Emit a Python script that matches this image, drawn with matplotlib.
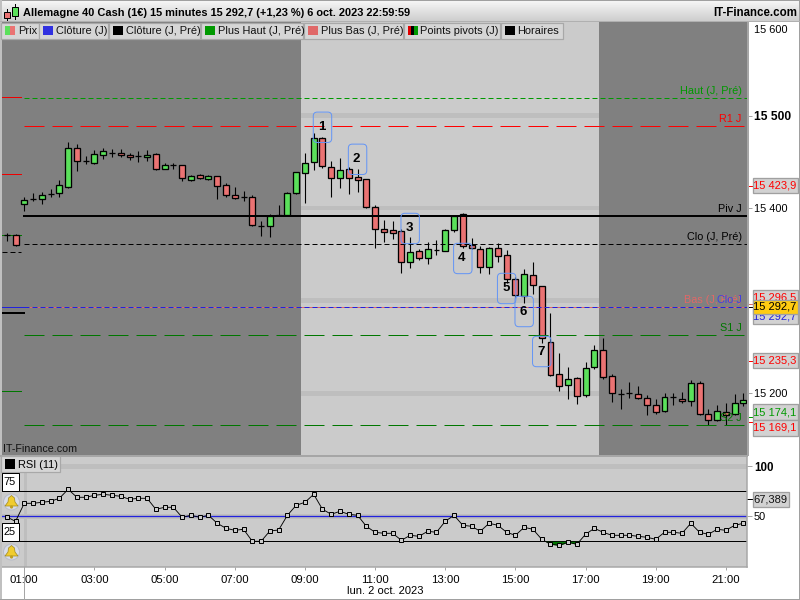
import numpy as np
import matplotlib
matplotlib.use("Agg")
import matplotlib.pyplot as plt
from matplotlib.patches import Rectangle, FancyBboxPatch, Circle, Polygon

plt.rcParams['font.family'] = ['Liberation Sans', 'DejaVu Sans']
plt.rcParams['lines.scale_dashes'] = False

### Data
opens = [15370.5, 15370.5,
    15404.0, 15409.4, 15410.1, 15415.5, 15415.9, 15423.1, 15464.5, 15450.5, 15449.0, 15456.9,
    15459.8, 15459.8, 15456.9, 15455.9, 15454.8, 15458.0, 15442.5, 15446.1, 15446.1, 15430.7,
    15435.3, 15431.0, 15434.3, 15424.5, 15413.7, 15411.6, 15411.6, 15381.0, 15381.0, 15392.9,
    15392.9, 15415.9, 15438.2, 15449.4, 15475.3, 15444.0, 15432.8, 15441.8, 15433.2, 15431.0,
    15400.8, 15377.0, 15375.9, 15374.9, 15342.1, 15353.3, 15346.4, 15355.1, 15354.0, 15376.7,
    15393.2, 15359.7, 15355.4, 15336.7, 15356.5, 15348.9, 15323.0, 15305.4, 15327.3, 15315.5,
    15255.0, 15220.4, 15208.5, 15216.1, 15197.7, 15228.0, 15246.3, 15218.3, 15199.5, 15200.6,
    15198.8, 15194.5, 15186.9, 15180.5, 15195.6, 15193.4, 15191.3, 15210.7, 15177.2, 15170.7,
    15179.4, 15177.2, 15189.1]
closes = [15370.5, 15360.5,
    15408.3, 15409.4, 15413.7, 15415.5, 15424.5, 15464.5, 15450.5, 15450.5, 15458.0, 15461.3,
    15459.8, 15457.7, 15454.8, 15455.9, 15456.9, 15441.8, 15446.1, 15446.1, 15432.1, 15434.3,
    15432.1, 15434.3, 15423.5, 15413.7, 15410.5, 15411.6, 15381.3, 15381.0, 15391.1, 15392.9,
    15415.9, 15438.6, 15448.3, 15475.3, 15445.8, 15432.8, 15440.7, 15432.8, 15430.7, 15401.5,
    15377.7, 15374.5, 15373.4, 15342.1, 15352.2, 15346.4, 15356.1, 15355.1, 15375.9, 15391.1,
    15359.4, 15356.5, 15336.7, 15356.5, 15348.6, 15323.7, 15306.5, 15328.4, 15316.5, 15259.7,
    15220.1, 15207.5, 15215.0, 15196.7, 15226.9, 15246.3, 15217.2, 15199.9, 15199.5, 15200.6,
    15194.5, 15186.9, 15179.4, 15195.6, 15195.6, 15191.3, 15210.7, 15177.2, 15170.7, 15180.5,
    15176.1, 15189.1, 15192.3]
highs = [15373.4, 15372.0,
    15411.6, 15415.9, 15417.0, 15420.9, 15429.9, 15471.0, 15468.8, 15456.2, 15462.7, 15464.9,
    15463.8, 15463.8, 15459.8, 15461.3, 15462.3, 15459.1, 15448.3, 15448.3, 15446.9, 15435.3,
    15436.8, 15435.7, 15435.0, 15427.1, 15423.1, 15418.1, 15413.7, 15386.0, 15393.6, 15403.3,
    15417.3, 15439.3, 15459.5, 15480.7, 15477.1, 15450.8, 15453.7, 15444.7, 15441.8, 15431.4,
    15403.3, 15387.1, 15386.0, 15377.0, 15368.4, 15355.4, 15363.0, 15365.1, 15377.0, 15392.5,
    15394.7, 15367.3, 15358.7, 15357.6, 15361.9, 15354.7, 15325.9, 15334.2, 15341.4, 15316.2,
    15286.3, 15243.1, 15228.0, 15217.2, 15234.1, 15251.7, 15259.7, 15220.4, 15204.2, 15211.8,
    15207.5, 15197.7, 15193.4, 15199.9, 15199.9, 15201.0, 15214.3, 15212.9, 15182.6, 15186.9,
    15189.1, 15198.8, 15199.9]
lows = [15364.8, 15359.0,
    15397.2, 15407.6, 15404.7, 15412.3, 15412.3, 15422.0, 15440.0, 15447.9, 15447.9, 15453.3,
    15454.8, 15455.5, 15451.9, 15450.1, 15451.2, 15441.1, 15441.8, 15442.5, 15429.6, 15429.6,
    15431.0, 15429.9, 15409.8, 15412.3, 15409.8, 15407.3, 15380.6, 15370.2, 15369.1, 15391.4,
    15392.5, 15415.5, 15405.8, 15441.1, 15443.6, 15412.3, 15421.7, 15415.2, 15417.7, 15400.4,
    15357.2, 15363.3, 15366.6, 15330.2, 15335.6, 15344.3, 15339.9, 15349.7, 15353.6, 15374.5,
    15357.2, 15355.4, 15329.9, 15328.8, 15341.7, 15318.7, 15302.5, 15297.5, 15307.2, 15254.6,
    15219.0, 15202.8, 15193.4, 15188.0, 15196.3, 15225.8, 15215.7, 15190.9, 15182.6, 15194.5,
    15193.4, 15176.9, 15177.2, 15179.4, 15186.9, 15189.1, 15185.9, 15176.1, 15165.7, 15169.7,
    15165.3, 15176.1, 15185.9]
rsi_values = [49.3, 45,
    63, 63, 64, 65, 68, 77, 69, 69, 71, 72,
    71, 70, 67, 68, 68, 57, 59, 59, 49, 51,
    49, 51, 43, 38, 36, 37, 25, 25, 35.3, 36.3,
    51, 61, 64, 72, 57, 52, 55, 52, 51, 40,
    34, 33, 33, 26, 31, 30, 35, 34, 45, 51,
    41, 40, 35, 43, 41, 34, 31, 39, 37, 27,
    22, 21, 24, 22, 32, 38, 34, 31, 31, 31,
    30, 29, 27, 34, 34, 33, 43, 34, 32, 37,
    36, 41, 43]

time_labels = ['01:00', '03:00', '05:00', '07:00', '09:00', '11:00', '13:00', '15:00', '17:00', '19:00', '21:00']
bubble_labels = ['1', '2', '3', '4', '5', '6', '7']
bubble_idx = [34, 38, 44, 50, 55, 57, 59]
bubble_price = [15487.3, 15452.7, 15378.0, 15345.6, 15313.2, 15288.3, 15245.1]

haut_pre = 15518.5
r1 = 15488.3
piv = 15391.4
clo_pre = 15360.8
last_close = 15292.7
s1 = 15262.5
s2 = 15165.3
prev_levels = [15519.6, 15436.8, 15202.0]
prev_clo = 15352.2
prev_piv = 15287.0

### Colours
DARK = '#808080'
LIGHT = '#cbcbcb'
BAND = '#bebebe'
GREEN = '#5be05b'
RED = '#ea7373'
FRAME = '#a6a6a6'
px = 0.72  # one pixel in points at dpi 100
FS = 7.9


def box_axes(left, top, right, bottom):
    return fig.add_axes([left / 800, 1 - bottom / 600, (right - left) / 800, (bottom - top) / 600])


fig = plt.figure(figsize=(8, 6), dpi=100, facecolor='white')

#%% price pane
idx = np.arange(len(closes)) - 2
xlim = ((2 - 24.3) / 8.77, (747 - 24.3) / 8.77)
ax = box_axes(2, 22, 747, 455.5)
ax.set_xlim(xlim)
ax.set_ylim(15132.8, 15601)
ax.set_facecolor(DARK)
for s in ax.spines.values():
    s.set_visible(False)

ax.axvspan(31.55, 65.53, color=LIGHT, lw=0, zorder=0)
for level in [15500, 15400, 15300, 15200]:
    ax.fill_between([31.55, 65.53], level - 2.5, level + 2.5, color=BAND, lw=0, zorder=0.5)

o = np.array(opens)
c = np.array(closes)
colors = [GREEN if b > a else RED for a, b in zip(o, c)]
ax.vlines(idx, lows, highs, color='black', lw=1.1 * px, zorder=2)
ax.bar(idx, np.abs(c - o), bottom=np.minimum(o, c), width=0.68, color=colors,
       edgecolor='black', linewidth=1.3 * px, zorder=3)

line_x = [0, xlim[1]]
long_dash = (0, (20 * px, 8 * px))
short_dash = (0, (5 * px, 3 * px))
ax.plot(line_x, [haut_pre] * 2, color='#009900', lw=1 * px, ls=short_dash, zorder=4)
ax.plot(line_x, [r1] * 2, color='#ff0000', lw=1 * px, ls=long_dash, zorder=4)
ax.plot(line_x, [piv] * 2, color='black', lw=2 * px, zorder=4)
ax.plot(line_x, [clo_pre] * 2, color='black', lw=1 * px, ls=short_dash, zorder=4)
ax.plot(line_x, [last_close] * 2, color='#e06868', lw=1 * px, zorder=4)
ax.plot(line_x, [last_close] * 2, color='#2222dd', lw=1 * px, ls=short_dash, zorder=4)
ax.plot(line_x, [s1] * 2, color='#007700', lw=1 * px, ls=long_dash, zorder=4)
ax.plot(line_x, [s2] * 2, color='#007700', lw=1 * px, ls=long_dash, zorder=4)

# stubs of the previous session on the far left
stub_x = [xlim[0], -0.35]
for level, col in zip(prev_levels, ['#ee0000', '#ee0000', '#007700']):
    ax.plot(stub_x, [level] * 2, color=col, lw=1 * px, zorder=1)
ax.plot(stub_x, [closes[0]] * 2, color='#007700', lw=1 * px, zorder=1)
ax.plot(stub_x, [prev_clo] * 2, color='black', lw=1 * px, ls=short_dash, zorder=1)
ax.plot([xlim[0], 0], [prev_piv] * 2, color='black', lw=2 * px, zorder=1)
ax.plot([xlim[0], 0], [last_close] * 2, color='#2222dd', lw=1 * px, zorder=4)

for lab, bx, by in zip(bubble_labels, bubble_idx, bubble_price):
    ax.add_patch(FancyBboxPatch((bx - 1.05, by - 16.4), 2.1, 32.8,
                                boxstyle='round,pad=0,rounding_size=0.45', mutation_aspect=9.47,
                                fc='none', ec='#6495f5', lw=1 * px, zorder=6))
    ax.text(bx - 0.1, by, lab, fontsize=9.5, fontweight='bold', ha='center', va='center', zorder=7)

ax.set_xticks([])
ax.yaxis.tick_right()
ax.set_yticks([15500, 15400, 15200])
ax.set_yticklabels(['15 500', '15 400', '15 200'], fontsize=FS)
ax.get_yticklabels()[0].set_fontweight('bold')
ax.get_yticklabels()[0].set_fontsize(8.7)
ax.tick_params(axis='y', length=3.6, width=1 * px, color=FRAME, pad=1.5)

ytr = ax.get_yaxis_transform()
for price, col in [(15423.9, '#ff0000'), (15235.3, '#ff0000'), (15174.1, '#009900'), (15169.1, '#ff0000'),
                   (15296.5, '#e06868'), (15292.7, 'black')]:
    ax.plot([1.0, 1.007], [price] * 2, color=col, lw=1 * px, transform=ytr, clip_on=False, zorder=8)

#%% RSI pane
ax2 = box_axes(2, 456, 747, 567.3)
ax2.set_xlim(xlim)
ax2.set_ylim(-1, 110.3)
ax2.set_facecolor(LIGHT)
ax2.axhspan(97.7, 102.3, color=BAND, lw=0, zorder=0)
ax2.axhspan(47.7, 52.3, color=BAND, lw=0, zorder=0)
ax2.axvspan(0, 0.3, color=BAND, lw=0, zorder=0)
ax2.axhline(75, color='black', lw=1 * px, zorder=1)
ax2.axhline(25, color='black', lw=1 * px, zorder=1)
ax2.axhline(50, color='#2222dd', lw=1.3 * px, zorder=1)
rsi = np.array(rsi_values)
ax2.fill_between(idx, rsi, 25, where=rsi < 25, interpolate=True, color='#007700', lw=0, zorder=1.5)
ax2.plot(idx, rsi, color='black', lw=0.9 * px, marker='s', ms=3.4, mfc=LIGHT, mec='black', mew=1 * px, zorder=3)
ax2.set_xticks(np.arange(len(time_labels)) * 8)
ax2.set_xticklabels(time_labels, fontsize=8.2)
ax2.tick_params(axis='x', length=2.5, width=1 * px, color=FRAME, pad=3)
ax2.yaxis.tick_right()
ax2.set_yticks([100, 50])
ax2.set_yticklabels(['100', '50'], fontsize=FS)
ax2.get_yticklabels()[0].set_fontweight('bold')
ax2.get_yticklabels()[0].set_fontsize(8.3)
ax2.tick_params(axis='y', length=3.6, width=1 * px, color=FRAME, pad=1.5)
ax2.plot([1.0, 1.007], [67.389] * 2, color='black', lw=1 * px, transform=ax2.get_yaxis_transform(), clip_on=False)
for s in ax2.spines.values():
    s.set_color(FRAME)
    s.set_linewidth(1.5 * px)
ax2.spines['left'].set_visible(False)

#%% window chrome, in pixels
ov = fig.add_axes([0, 0, 1, 1], zorder=10)
ov.patch.set_alpha(0)
ov.axis('off')
ov.imshow(np.linspace(0.96, 0.8, 32).reshape(-1, 1), extent=[0, 800, 22, 1], cmap='gray', vmin=0, vmax=1, aspect='auto')
ov.set_xlim(0, 800)
ov.set_ylim(600, 0)


def rect(x0, y0, x1, y1, fc, ec='none', lw=1, z=1):
    ov.add_patch(Rectangle((x0, y0), x1 - x0, y1 - y0, fc=fc, ec=ec, lw=lw * px, zorder=z))


rect(0, 0, 800, 1, '#a0a0a0')
rect(0, 0, 1.5, 600, '#c0c0c0')
rect(799, 0, 800, 600, '#a0a0a0')
rect(0, 599, 800, 600, '#a0a0a0')
rect(0, 21, 800, 22, '#b0b0b0')
rect(747, 22, 748.5, 456, FRAME)
rect(0, 455, 748, 456.5, FRAME)

# title
rect(3.5, 11.5, 9.5, 18, RED, 'black')
ov.plot([6.5, 6.5], [9, 20], color='black', lw=1 * px, zorder=0.9)
rect(11.5, 7, 17.5, 16, GREEN, 'black')
ov.plot([14.5, 14.5], [4, 19], color='black', lw=1 * px, zorder=0.9)
ov.text(23, 13, 'Allemagne 40 Cash (1€) 15 minutes 15 292,7 (+1,23 %) 6 oct. 2023 22:59:59',
        fontsize=7.95, fontweight='bold', va='center')
ov.text(797, 13, 'IT-Finance.com', fontsize=8.3, fontweight='bold', va='center', ha='right')

# legend buttons
buttons = [(1, 38.7, 'Prix', [GREEN, RED]), (39, 108.3, 'Clôture (J)', ['#3030e0']),
           (109, 200, 'Clôture (J, Pré)', ['black']), (201, 303.3, 'Plus Haut (J, Pré)', ['#009900']),
           (304, 403.3, 'Plus Bas (J, Pré)', ['#e06868']),
           (403.5, 500, 'Points pivots (J)', ['#e00000', 'black', '#009900']), (500.5, 562.7, 'Horaires', ['black'])]
for x0, x1, lab, cols in buttons:
    rect(x0, 22.5, x1, 38.5, '#d6d6d6', '#a8a8a8', 1.2)
    w = 10 / len(cols)
    for i, col in enumerate(cols):
        rect(x0 + 4 + i * w, 25.5, x0 + 4 + (i + 1) * w, 35, col, z=2)
    ov.text(x0 + 16.7, 31, lab, fontsize=FS, va='center', color='#111111', zorder=3)

# level labels
ov.text(2.5, 449.5, 'IT-Finance.com', fontsize=7.7, va='center', color='#111111')
for lab, y, col in [('Haut (J, Pré)', 91, '#009900'), ('R1 J', 119, '#ff0000'), ('Piv J', 209, 'black'),
                    ('Clo (J, Pré)', 237, 'black'), ('Bas (J, Pré)', 300, '#e06868'), ('Clo J', 300, '#4040e0'),
                    ('S1 J', 328, '#007700'), ('S2 J', 418, '#007700')]:
    ov.text(741.7, y, lab, fontsize=7.8, va='center', ha='right', color=col)
ov.text(754, 30, '15 600', fontsize=FS, va='center', color='black')


# value boxes
def value_box(y0, y1, lab, col, fc='#d2d2d2', x1=797.5, z=2):
    rect(752.7, y0, x1, y1, fc, '#a0a0a0', 1.3, z=z)
    ov.text((752.7 + x1) / 2, (y0 + y1) / 2, lab, fontsize=8, color=col, ha='center', va='center', zorder=z)


value_box(177.5, 193.3, '15 423,9', '#ff0000')
value_box(290, 305, '15 296,5', '#ff0000')
value_box(309, 323.5, '15 292,7', '#2222dd')
value_box(299.5, 314.3, '15 292,7', 'black', fc='#ffcc11', z=3)
value_box(352.7, 368.3, '15 235,3', '#ff0000')
value_box(404.3, 420, '15 174,1', '#009900')
value_box(420, 435.7, '15 169,1', '#ff0000')
value_box(492, 507.3, '67,389', '#111111', x1=789)

# RSI button and alert boxes
rect(1, 456, 60, 472, '#d6d6d6', '#a8a8a8', 1.2)
rect(5, 459, 15, 468.5, 'black', z=2)
ov.text(17.5, 464.5, 'RSI (11)', fontsize=FS, va='center', zorder=3)
for y0, y1, lab in [(473, 491, '75'), (523, 541, '25')]:
    rect(1.5, y0, 18.5, y1, 'white', 'black', 1)
    ov.text(3, (y0 + y1) / 2, lab, fontsize=FS, va='center')
for yc in [502, 552]:
    ov.add_patch(Circle((11.5, yc), 8, fc='#d8dce8', ec='#b8bcc8', lw=1 * px, zorder=2))
    ov.add_patch(Polygon([(5, yc + 4), (8, yc), (8.5, yc - 4), (11.5, yc - 6.5), (14.5, yc - 4), (15, yc), (18, yc + 4)],
                         fc='#f0cc30', ec='#a08a20', lw=0.7 * px, zorder=3))
    ov.add_patch(Circle((11.5, yc + 5), 1.6, fc='#c0a020', lw=0, zorder=3))

# date and day separator
ov.plot([24.3, 24.3], [567, 599], color=FRAME, lw=1 * px)
ov.text(385.5, 591.5, 'lun. 2 oct. 2023', fontsize=8, ha='center', va='center')

fig.savefig('out.png', dpi=100)
